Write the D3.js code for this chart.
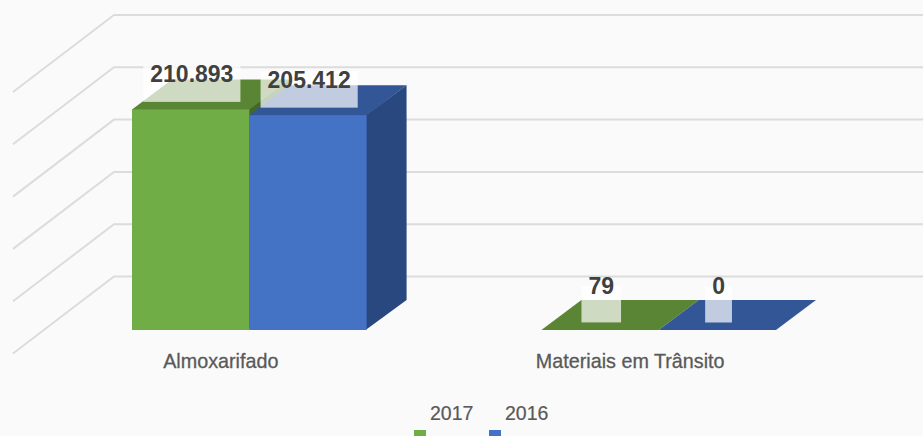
<!DOCTYPE html>
<html><head><meta charset="utf-8">
<script src="https://cdnjs.cloudflare.com/ajax/libs/d3/7.8.5/d3.min.js"></script>
<style>html,body{margin:0;padding:0;background:#fafafa;overflow:hidden}svg{display:block}
text{font-family:"Liberation Sans",sans-serif}</style>
</head><body><svg id="c" width="923" height="436"></svg>
<script>
const categories = ["Almoxarifado", "Materiais em Trânsito"];
const seriesNames = ["2017", "2016"];
const values2017 = [210893, 79];
const values2016 = [205412, 0];
const seriesValues = [values2017, values2016];
const front = ["#70ad47", "#4472c4"];
const topFace = ["#5a8534", "#335696"];
const sideFace = ["#43682a", "#2a4880"];

const svg = d3.select("#c");
svg.append("rect").attr("width", 923).attr("height", 436).attr("fill", "#fafafa");

const baseY = 330, barDx = 40, barDy = 30;
const x = d3.scaleBand().domain(categories).range([132, 776]).paddingInner(0.427);
const xs = d3.scaleBand().domain(d3.range(2)).range([0, x.bandwidth()]);
const y = d3.scaleLinear().domain([0, 250000]).range([baseY, baseY - 261.5]);
const fmt = d3.formatLocale({decimal: ",", thousands: ".", grouping: [3], currency: ["", ""]}).format(",d");

// walls
const wallX = 114, wallUp = 53.5, wallDx = 101, wallDy = 77;
const grid = svg.append("g").attr("fill", "none").attr("stroke", "#dcdcdc").attr("stroke-width", 2);
y.ticks(5).forEach(t => {
  const yb = y(t) - wallUp;
  grid.append("path").attr("d", `M${wallX - wallDx},${yb + wallDy}L${wallX},${yb}L923,${yb}`);
});

// bars
const bars = svg.append("g");
const labels = [];
seriesValues.forEach((vals, s) => {
  vals.forEach((v, c) => {
    const x0 = x(categories[c]) + xs(s), x1 = x0 + xs.bandwidth(), t = y(v);
    if (baseY - t > 1) {
      bars.append("path").attr("fill", sideFace[s])
        .attr("d", `M${x1 - 1},${t}L${x1 + barDx},${t - barDy}L${x1 + barDx},${baseY - barDy}L${x1 - 1},${baseY}Z`);
      bars.append("path").attr("fill", topFace[s])
        .attr("d", `M${x0},${t + 1}L${x0},${t}L${x0 + barDx},${t - barDy}L${x1 + barDx},${t - barDy}L${x1},${t}L${x1},${t + 1}Z`);
      bars.append("rect").attr("fill", front[s]).attr("x", x0).attr("y", t).attr("width", x1 - x0).attr("height", baseY - t);
    } else {
      bars.append("path").attr("fill", topFace[s])
        .attr("d", `M${x0},${baseY}L${x0 + barDx},${baseY - barDy}L${x1 + barDx},${baseY - barDy}L${x1},${baseY}Z`);
    }
    labels.push({v, cx: (x0 + x1) / 2 + 1.2, t, flat: baseY - t <= 1});
  });
});

// data labels
const lab = svg.append("g");
labels.forEach(d => {
  const g = lab.append("g");
  const r = g.append("rect").attr("fill", "#fff").attr("fill-opacity", 0.7);
  const tx = g.append("text").attr("x", d.cx).attr("y", d.t - (d.flat ? 36 : 27.5)).attr("text-anchor", "middle")
    .attr("font-size", 23).attr("font-weight", 700).attr("fill", "#404040").text(fmt(d.v));
  const w = tx.node().getComputedTextLength() + 14;
  r.attr("x", d.cx - w / 2).attr("y", d.t - 44).attr("width", w).attr("height", 36.5);
});

// category axis
const axis = svg.append("g").attr("transform", "translate(-28.5,351)")
  .call(d3.axisBottom(x).tickSize(0).tickPadding(0));
axis.select(".domain").remove();
axis.selectAll("text").attr("font-size", 21).attr("fill", "#595959")
  .attr("stroke", "#595959").attr("stroke-width", 0.3)
  .attr("dy", 0).attr("y", 17).style("font-family", '"Liberation Sans",sans-serif')
  .each(function () {
    const n = this.getComputedTextLength();
    d3.select(this).attr("textLength", n * 0.94).attr("lengthAdjust", "spacingAndGlyphs");
  });

// legend
const legendX = d3.scaleOrdinal().domain(seriesNames).range([414, 489]);
const leg = svg.append("g");
seriesNames.forEach((n, i) => {
  leg.append("rect").attr("x", legendX(n)).attr("y", 430).attr("width", 12).attr("height", 12).attr("fill", front[i]);
  leg.append("text").attr("x", legendX(n) + 16).attr("y", 420).attr("font-size", 19.5).attr("fill", "#595959")
    .attr("stroke", "#595959").attr("stroke-width", 0.2).text(n);
});
</script></body></html>
